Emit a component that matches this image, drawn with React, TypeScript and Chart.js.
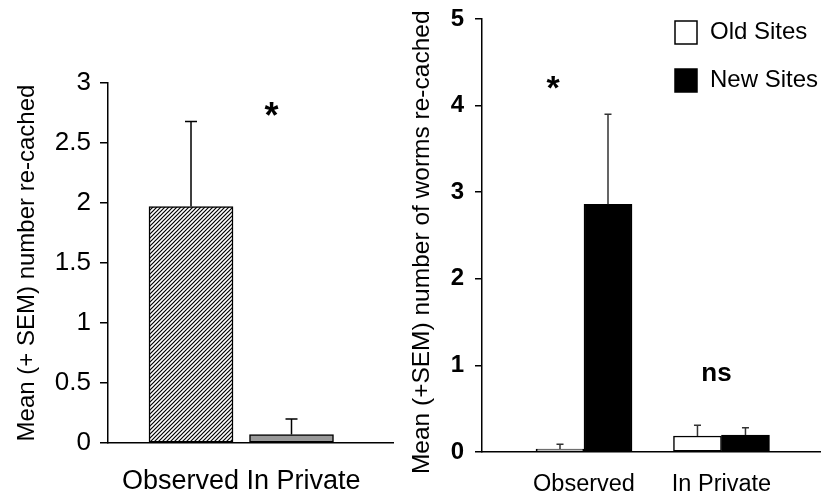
import React, { useEffect, useRef } from "react";
import { Chart, registerables } from "chart.js";

Chart.register(...registerables);

const FONT = "'Liberation Sans', Arial, Helvetica, sans-serif";

// ---------- data: left panel ----------
const leftCategories = ["Observed", "In Private"];
const leftMeans = [1.97, 0.07];
const leftSem = [0.71, 0.13];
const leftYTicks = [0, 0.5, 1, 1.5, 2, 2.5, 3];
const leftNotes = [{ text: "*", x: 0.8, y: 2.78 }];

// ---------- data: right panel ----------
const rightCategories = ["Observed", "In Private"];
const rightSeries = ["Old Sites", "New Sites"];
const oldMeans = [0.035, 0.185];
const oldSem = [0.055, 0.125];
const newMeans = [2.86, 0.195];
const newSem = [1.04, 0.085];
const rightYTicks = [0, 1, 2, 3, 4, 5];
const rightNotes = [
  { text: "*", x: -0.225, y: 4.27 },
  { text: "ns", x: 0.964, y: 0.906 },
];

const errorBarPlugin = {
  id: "errorBars",
  afterDatasetsDraw(chart: any, _args: any, opts: any) {
    const { ctx } = chart;
    const yScale = chart.scales.y;
    chart.data.datasets.forEach((ds: any, di: number) => {
      if (!ds.errors) return;
      const meta = chart.getDatasetMeta(di);
      meta.data.forEach((bar: any, i: number) => {
        const v = ds.data[i].y;
        const base = yScale.getPixelForValue(v);
        const top = yScale.getPixelForValue(v + ds.errors[i]);
        ctx.save();
        ctx.strokeStyle = opts.color;
        ctx.lineWidth = opts.lineWidth;
        ctx.beginPath();
        ctx.moveTo(bar.x, base);
        ctx.lineTo(bar.x, top);
        ctx.moveTo(bar.x - opts.capHalf, top);
        ctx.lineTo(bar.x + opts.capHalf, top);
        ctx.stroke();
        ctx.restore();
      });
    });
  },
};

const notesPlugin = {
  id: "notes",
  afterDatasetsDraw(chart: any, _args: any, opts: any) {
    const { ctx } = chart;
    const xs = chart.scales.x;
    const ys = chart.scales.y;
    (opts.items || []).forEach((n: any) => {
      ctx.save();
      ctx.font = n.text === "*" ? opts.starFont : opts.font;
      ctx.fillStyle = "#000";
      ctx.textAlign = "center";
      ctx.textBaseline = "alphabetic";
      const m = ctx.measureText(n.text);
      const cx = xs.getPixelForValue(n.x);
      const cy = ys.getPixelForValue(n.y);
      ctx.fillText(n.text, cx, cy + (m.actualBoundingBoxAscent - m.actualBoundingBoxDescent) / 2);
      ctx.restore();
    });
  },
};

const boxLegendPlugin = {
  id: "boxLegend",
  afterDraw(chart: any, _args: any, opts: any) {
    if (!opts || !opts.display) return;
    const { ctx } = chart;
    chart.data.datasets.forEach((ds: any, i: number) => {
      const top = opts.top + i * opts.rowGap;
      ctx.save();
      ctx.fillStyle = ds.backgroundColor;
      ctx.fillRect(opts.left, top, opts.boxW, opts.boxH);
      ctx.strokeStyle = "#000";
      ctx.lineWidth = 1.5;
      ctx.strokeRect(opts.left, top, opts.boxW, opts.boxH);
      ctx.font = opts.font;
      ctx.fillStyle = "#000";
      ctx.textAlign = "left";
      ctx.textBaseline = "middle";
      ctx.fillText(ds.label, opts.left + opts.boxW + opts.gap, top + opts.boxH / 2);
      ctx.restore();
    });
  },
};

function makeHatch(): CanvasPattern | string {
  const c = document.createElement("canvas");
  c.width = 4;
  c.height = 4;
  const g = c.getContext("2d");
  if (!g) return "#fff";
  g.fillStyle = "#fff";
  g.fillRect(0, 0, 4, 4);
  g.strokeStyle = "#000";
  g.lineWidth = 1.2;
  g.beginPath();
  g.moveTo(0, 4);
  g.lineTo(4, 0);
  g.moveTo(-1, 1);
  g.lineTo(1, -1);
  g.moveTo(3, 5);
  g.lineTo(5, 3);
  g.stroke();
  const p = g.createPattern(c, "repeat");
  return p || "#fff";
}

function zeroPad(s: any) {
  s.paddingTop = 0;
  s.paddingBottom = 0;
  s.paddingLeft = 0;
  s.paddingRight = 0;
}

function yAxis(opts: any) {
  return {
    type: "linear",
    min: opts.min,
    max: opts.max,
    afterBuildTicks: (s: any) => {
      s.ticks = opts.ticks.map((v: number) => ({ value: v }));
    },
    afterFit: (s: any) => {
      s.width = opts.width;
      zeroPad(s);
    },
    ticks: {
      color: "#000",
      font: opts.tickFont,
      padding: opts.tickPadding,
      callback: (v: any) => String(v),
    },
    grid: {
      display: true,
      drawOnChartArea: false,
      drawTicks: true,
      tickLength: opts.tickLength,
      color: "#000",
      lineWidth: 1.5,
    },
    border: { display: true, color: "#000", width: 1.5 },
    title: {
      display: true,
      text: opts.title,
      color: "#000",
      font: opts.titleFont,
      padding: { top: opts.titlePad, bottom: 0 },
    },
  };
}

function xAxis(opts: any) {
  return {
    type: "linear",
    offset: false,
    bounds: "data",
    min: opts.min,
    max: opts.max,
    afterBuildTicks: (s: any) => {
      s.ticks = opts.tickValues.map((v: number) => ({ value: v }));
    },
    afterFit: (s: any) => {
      s.height = opts.height;
      zeroPad(s);
    },
    ticks: {
      color: "#000",
      font: opts.font,
      padding: opts.padding,
      maxRotation: 0,
      minRotation: 0,
      autoSkip: false,
      callback: opts.label,
    },
    grid: { display: false, drawTicks: false },
    border: { display: true, color: "#000", width: 1.5 },
  };
}

function LeftChart() {
  const ref = useRef<HTMLCanvasElement>(null);
  useEffect(() => {
    if (!ref.current) return;
    const hatch = makeHatch();
    const chart = new Chart(ref.current, {
      type: "bar",
      data: {
        datasets: [
          {
            label: "Mean",
            data: leftCategories.map((_, i) => ({ x: i, y: leftMeans[i] })),
            backgroundColor: [hatch, "#999999"],
            borderColor: "#000",
            borderWidth: 1.5,
            borderSkipped: false,
            barThickness: 84,
            errors: leftSem,
          } as any,
        ],
      },
      options: {
        animation: false,
        responsive: false,
        layout: { padding: { top: 83, right: 7, bottom: 0, left: 0 } },
        scales: {
          x: xAxis({
            min: -0.826,
            max: 2.01,
            tickValues: [0.5],
            height: 54,
            font: { family: FONT, size: 27 },
            padding: 22.5,
            label: () => leftCategories.join(" "),
          }),
          y: yAxis({
            min: 0,
            max: 3,
            ticks: leftYTicks,
            width: 108,
            tickFont: { family: FONT, size: 26 },
            tickPadding: 9,
            tickLength: 8,
            title: "Mean (+ SEM) number re-cached",
            titleFont: { family: FONT, size: 24 },
            titlePad: 12.6,
          }),
        } as any,
        plugins: {
          legend: { display: false },
          tooltip: { enabled: false },
          errorBars: { color: "#000", lineWidth: 1.5, capHalf: 6 },
          notes: {
            items: leftNotes,
            starFont: `bold 36px ${FONT}`,
            font: `bold 26px ${FONT}`,
          },
        } as any,
      },
      plugins: [errorBarPlugin, notesPlugin],
    });
    return () => chart.destroy();
  }, []);
  return (
    <canvas
      ref={ref}
      width={400}
      height={497}
      style={{ position: "absolute", left: 0, top: 0, width: 400, height: 497 }}
    />
  );
}

function RightChart() {
  const ref = useRef<HTMLCanvasElement>(null);
  useEffect(() => {
    if (!ref.current) return;
    const chart = new Chart(ref.current, {
      type: "bar",
      data: {
        datasets: [
          {
            label: rightSeries[0],
            data: rightCategories.map((_, i) => ({ x: i, y: oldMeans[i] })),
            backgroundColor: "#ffffff",
            borderColor: "#000",
            borderWidth: 1.5,
            borderSkipped: false,
            barThickness: 48,
            errors: oldSem,
          } as any,
          {
            label: rightSeries[1],
            data: rightCategories.map((_, i) => ({ x: i, y: newMeans[i] })),
            backgroundColor: "#000000",
            borderColor: "#000",
            borderWidth: 1.5,
            borderSkipped: false,
            barThickness: 48,
            errors: newSem,
          } as any,
        ],
      },
      options: {
        animation: false,
        responsive: false,
        layout: { padding: { top: 19, right: 0, bottom: 0, left: 0 } },
        scales: {
          x: xAxis({
            min: -0.742,
            max: 1.724,
            tickValues: [0, 1],
            height: 45,
            font: { family: FONT, size: 23.5 },
            padding: 18.6,
            label: (v: any) => rightCategories[Math.round(v)],
          }),
          y: yAxis({
            min: 0,
            max: 5,
            ticks: rightYTicks,
            width: 82,
            tickFont: { family: FONT, size: 24, weight: "bold" },
            tickPadding: 11,
            tickLength: 7,
            title: "Mean (+SEM) number of worms re-cached  ",
            titleFont: { family: FONT, size: 24.5 },
            titlePad: 8,
          }),
        } as any,
        plugins: {
          legend: { display: false },
          tooltip: { enabled: false },
          errorBars: { color: "#333", lineWidth: 1.5, capHalf: 3.5 },
          notes: {
            items: rightNotes,
            starFont: `bold 34px ${FONT}`,
            font: `bold 26px ${FONT}`,
          },
          boxLegend: {
            display: true,
            left: 275,
            top: 21,
            rowGap: 48,
            boxW: 22,
            boxH: 23,
            gap: 13,
            font: `24px ${FONT}`,
          },
        } as any,
      },
      plugins: [errorBarPlugin, notesPlugin, boxLegendPlugin],
    });
    return () => chart.destroy();
  }, []);
  return (
    <canvas
      ref={ref}
      width={421}
      height={497}
      style={{ position: "absolute", left: 400, top: 0, width: 421, height: 497 }}
    />
  );
}

export default function App() {
  return (
    <div
      style={{
        position: "absolute",
        left: 0,
        top: 0,
        width: 821,
        height: 497,
        background: "#fff",
        overflow: "hidden",
      }}
    >
      <LeftChart />
      <RightChart />
    </div>
  );
}
